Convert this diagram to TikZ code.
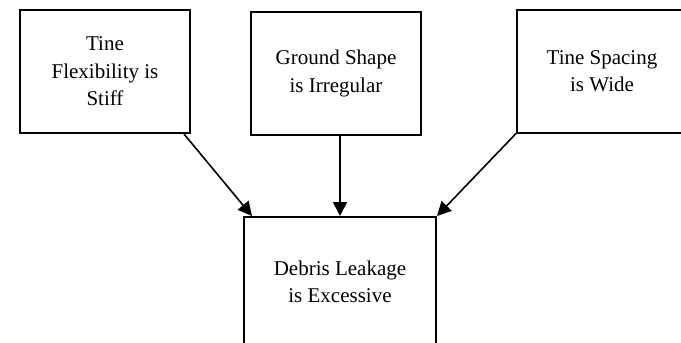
\documentclass[tikz,border=0pt]{standalone}
\usepackage{fontspec}
\setmainfont{Liberation Serif}
\usetikzlibrary{arrows.meta}

\tikzset{
    box/.style={draw, line width=2pt, align=center, minimum width=170pt, minimum height=123pt,
        inner sep=0pt, font=\fontsize{21}{27.5}\selectfont},
    cause/.style={line width=1.6pt, -{Triangle[length=14pt, width=14pt]}}
}

\begin{document}
\begin{tikzpicture}[x=1pt, y=-1pt]
    \useasboundingbox (0, 0) rectangle (681, 343);

    \node[box] (tine) at (105, 71.5) {Tine\\Flexibility is\\Stiff};
    \node[box] (ground) at (336, 73.5) {Ground Shape\\is Irregular};
    \node[box] (spacing) at (602, 71) {Tine Spacing\\is Wide};
    \node[box, minimum width=192pt, minimum height=130pt] (leak) at (340, 282) {Debris Leakage\\is Excessive};

    % arrows into the effect box
    \draw[cause] ([xshift=-7pt]tine.south east) -- ([xshift=9pt]leak.north west);
    \draw[cause] ([xshift=4pt]ground.south) -- (leak.north);
    \draw[cause] (spacing.south west) -- (leak.north east);
\end{tikzpicture}
\end{document}
